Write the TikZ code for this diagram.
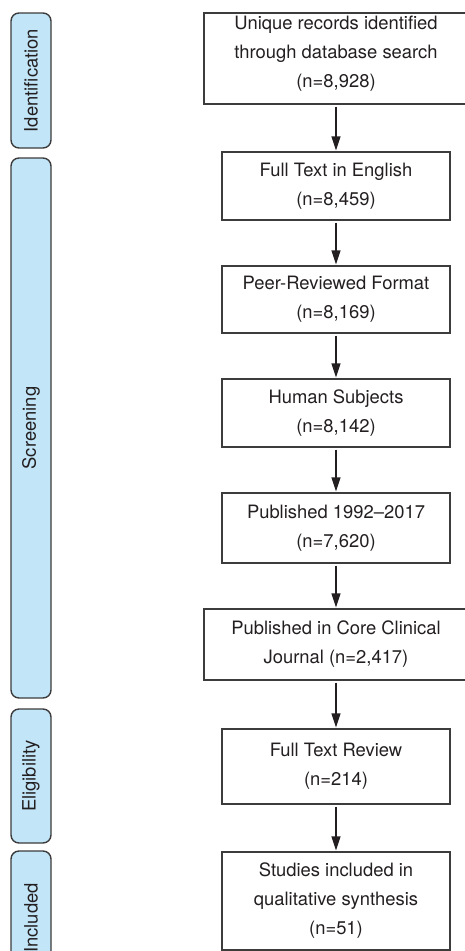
\documentclass[tikz,border=0pt]{standalone}
\usepackage{fontspec}
\setmainfont{TeX Gyre Heros}
\usetikzlibrary{arrows.meta}
\definecolor{phaseblue}{HTML}{C2E5F8}
\definecolor{edgegray}{HTML}{3C3C3C}
\definecolor{inkgray}{HTML}{231F20}
\tikzset{
  box/.style={draw=edgegray, line width=1.3pt, minimum width=228pt, align=center,
    text=inkgray, inner sep=0pt, font=\fontsize{18.4}{29}\selectfont},
  widebox/.style={box, minimum width=264pt},
  phase/.style={draw=edgegray, fill=phaseblue, line width=1.4pt, rounded corners=8pt,
    rotate=90, minimum height=40pt, inner sep=0pt, text=inkgray,
    font=\fontsize{18.4}{22}\selectfont},
  flow/.style={-{Triangle[length=14pt,width=9pt]}, line width=1.3pt, draw=inkgray}
}
\begin{document}
\begin{tikzpicture}[x=1pt,y=-1pt]
  \clip (0,0) rectangle (465,951);
  % phases on the left
  \node[phase, minimum width=135pt] (ident) at (31,80.5) {Identification};
  \node[phase, minimum width=540pt] (screen) at (31,428) {Screening};
  \node[phase, minimum width=134pt] (elig) at (31,776) {Eligibility};
  \node[phase, minimum width=134pt] (incl) at (31,918) {Included};
  % flow boxes
  \node[widebox, minimum height=91pt, text depth=13pt] (records) at (336,58.5)
    {Unique records identified\\through database search\\(n=8,928)};
  \node[box, minimum height=68pt] (english) at (336,186) {Full Text in English\\(n=8,459)};
  \node[box, minimum height=67pt] (peer) at (336,299.5) {Peer-Reviewed Format\\(n=8,169)};
  \node[box, minimum height=68pt] (human) at (336,413) {Human Subjects\\(n=8,142)};
  \node[box, minimum height=70pt] (years) at (336,528) {Published 1992--2017\\(n=7,620)};
  \node[widebox, minimum height=71pt] (core) at (336,644.5)
    {Published in Core Clinical\\Journal (n=2,417)};
  \node[box, minimum height=75pt] (fulltext) at (336,766.5) {Full Text Review\\(n=214)};
  \node[box, minimum height=98pt] (included) at (336,901)
    {Studies included in\\qualitative synthesis\\(n=51)};
  % arrows between boxes
  \foreach \a/\b in {records/english, english/peer, peer/human, human/years,
                     years/core, core/fulltext, fulltext/included}
    \draw[flow, shorten <=2pt, shorten >=1pt] (\a.south) -- (\b.north);
\end{tikzpicture}
\end{document}
